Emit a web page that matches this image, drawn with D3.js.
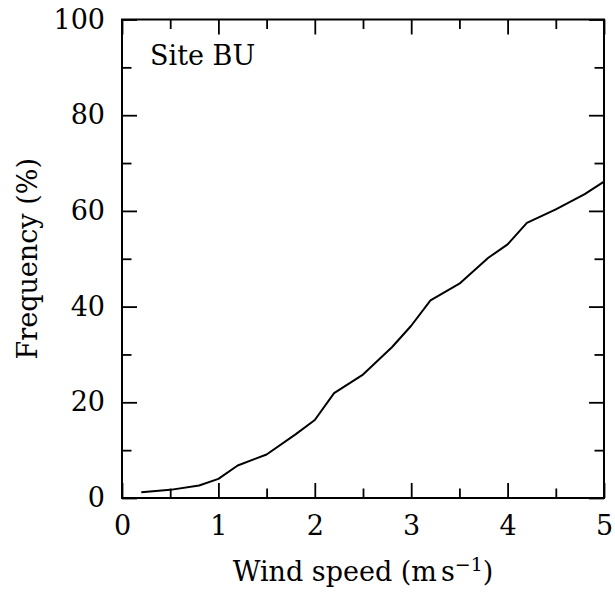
<!DOCTYPE html>
<html>
<head>
<meta charset="utf-8">
<script src="https://cdn.jsdelivr.net/npm/d3@7"></script>
<style>
  html, body { margin: 0; padding: 0; background: #fff; }
  svg { display: block; }
  text { font-family: "DejaVu Serif", "Liberation Serif", serif; fill: #000; }
</style>
</head>
<body>
<svg id="chart" width="615" height="601"></svg>
<script>
// Cumulative frequency of wind speed at site BU
const windSpeed = [0.2, 0.5, 0.8, 1.0, 1.2, 1.5, 1.8, 2.0, 2.2, 2.5, 2.8, 3.0, 3.2, 3.5, 3.8, 4.0, 4.2, 4.5, 4.8, 5.0];
const frequency = [1.2, 1.7, 2.6, 4.0, 6.8, 9.1, 13.3, 16.3, 21.9, 25.8, 31.5, 36.0, 41.3, 44.8, 50.2, 53.0, 57.5, 60.3, 63.5, 66.1];

const xMajorTicks = [0, 1, 2, 3, 4, 5];
const xMinorTicks = [0.5, 1.5, 2.5, 3.5, 4.5];
const yMajorTicks = [0, 20, 40, 60, 80, 100];
const yMinorTicks = [10, 30, 50, 70, 90];

const siteLabel = "Site BU";
const yTitle = "Frequency (%)";

const svg = d3.select("#chart");
const W = 615, H = 601;
const margin = { left: 122, top: 19.5, right: 11, bottom: 103 };
const iw = W - margin.left - margin.right;
const ih = H - margin.top - margin.bottom;

const x = d3.scaleLinear().domain([0, 5]).range([0, iw]);
const y = d3.scaleLinear().domain([0, 100]).range([ih, 0]);

const g = svg.append("g").attr("transform", `translate(${margin.left},${margin.top})`);

const MAJOR = 15, MINOR = 9.5;

function styleAxis(sel) {
  sel.select(".domain").remove();
  sel.selectAll(".tick line").attr("stroke", "#000").attr("stroke-width", 1.8);
  sel.selectAll(".tick text").attr("font-size", 27).attr("font-family", "DejaVu Serif").attr("fill", "#000");
}

// bottom axis: labelled majors, unlabelled minors, all pointing inward
g.append("g").attr("transform", `translate(0,${ih})`)
  .call(d3.axisBottom(x).tickValues(xMajorTicks).tickSize(-MAJOR).tickPadding(18).tickFormat(d3.format("d")))
  .call(styleAxis);
g.append("g").attr("transform", `translate(0,${ih})`)
  .call(d3.axisBottom(x).tickValues(xMinorTicks).tickSize(-MINOR).tickFormat(""))
  .call(styleAxis);

// top axis
g.append("g")
  .call(d3.axisTop(x).tickValues(xMajorTicks).tickSize(-MAJOR).tickFormat(""))
  .call(styleAxis);
g.append("g")
  .call(d3.axisTop(x).tickValues(xMinorTicks).tickSize(-MINOR).tickFormat(""))
  .call(styleAxis);

// left axis
g.append("g")
  .call(d3.axisLeft(y).tickValues(yMajorTicks).tickSize(-MAJOR).tickPadding(17).tickFormat(d3.format("d")))
  .call(styleAxis);
g.append("g")
  .call(d3.axisLeft(y).tickValues(yMinorTicks).tickSize(-MINOR).tickFormat(""))
  .call(styleAxis);

// right axis
g.append("g").attr("transform", `translate(${iw},0)`)
  .call(d3.axisRight(y).tickValues(yMajorTicks).tickSize(-MAJOR).tickFormat(""))
  .call(styleAxis);
g.append("g").attr("transform", `translate(${iw},0)`)
  .call(d3.axisRight(y).tickValues(yMinorTicks).tickSize(-MINOR).tickFormat(""))
  .call(styleAxis);

// plot frame
g.append("rect")
  .attr("x", 0).attr("y", 0).attr("width", iw).attr("height", ih)
  .attr("fill", "none").attr("stroke", "#000").attr("stroke-width", 2);

// frequency curve
const line = d3.line()
  .x((d, i) => x(windSpeed[i]))
  .y(d => y(d));
g.append("path")
  .datum(frequency)
  .attr("d", line)
  .attr("fill", "none")
  .attr("stroke", "#000")
  .attr("stroke-width", 2)
  .attr("stroke-linejoin", "round");

// site label
g.append("text")
  .attr("x", 28).attr("y", 45.5)
  .attr("font-size", 27)
  .text(siteLabel);

// x axis title with superscript unit
const xt = svg.append("text")
  .attr("x", margin.left + iw / 2).attr("y", 580.5)
  .attr("text-anchor", "middle")
  .attr("font-size", 27);
xt.append("tspan").text("Wind speed (m");
xt.append("tspan").attr("dx", 4).text("s");
xt.append("tspan").attr("dy", -10).attr("font-size", 19).text("\u22121");
xt.append("tspan").attr("dy", 10).text(")");

// y axis title
svg.append("text")
  .attr("transform", `translate(37,${margin.top + ih / 2}) rotate(-90)`)
  .attr("text-anchor", "middle")
  .attr("font-size", 27)
  .text(yTitle);
</script>
</body>
</html>
